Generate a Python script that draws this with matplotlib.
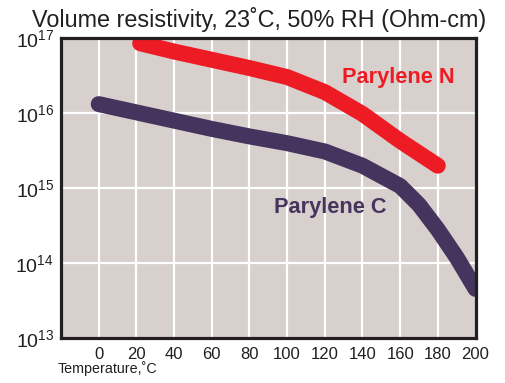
import matplotlib.pyplot as plt
from matplotlib.ticker import FixedLocator, NullLocator

# values (log10 of ohm-cm)
temp_n = [22, 40, 60, 80, 100, 120, 140, 160, 180]
log_rho_n = [16.93, 16.82, 16.71, 16.60, 16.48, 16.28, 15.99, 15.63, 15.30]

temp_c = [0, 20, 40, 60, 80, 100, 120, 140, 160, 170, 180, 190, 200]
log_rho_c = [16.12, 16.01, 15.90, 15.79, 15.69, 15.60, 15.49, 15.30, 15.03,
             14.78, 14.45, 14.08, 13.66]

x_ticks = [0, 20, 40, 60, 80, 100, 120, 140, 160, 180, 200]
y_decades = [13, 14, 15, 16, 17]

RED = "#ed1c24"
PURPLE = "#45345e"
BG = "#d7d0cd"
FRAME = "#231f20"

plt.rcParams["font.family"] = ["Liberation Sans", "DejaVu Sans"]
plt.rcParams["mathtext.default"] = "regular"

fig = plt.figure(figsize=(5.05, 3.83), dpi=100)
ax = fig.add_axes([0.1208, 0.1162, 0.8208, 0.7846])
ax.set_facecolor(BG)

ax.set_yscale("log")
ax.set_xlim(-20, 200)
ax.set_ylim(1e13, 1e17)

# grid: white lines, vertical every 20 from 0 to 180, horizontal at decades
for t in x_ticks[:-1]:
    ax.axvline(t, color="white", lw=1.6, zorder=1)
for d in y_decades[1:-1]:
    ax.axhline(10.0 ** d, color="white", lw=1.6, zorder=1)

ax.plot(temp_n, [10 ** v for v in log_rho_n], color=RED, lw=11.5,
        solid_capstyle="round", solid_joinstyle="round", zorder=3)
ax.plot(temp_c, [10 ** v for v in log_rho_c], color=PURPLE, lw=11.5,
        solid_capstyle="round", solid_joinstyle="round", zorder=3)

ax.text(159, 10 ** 16.47, "Parylene N", color=RED, fontsize=15.7,
        fontweight="bold", ha="center", va="center", zorder=4)
ax.text(123, 10 ** 14.75, "Parylene C", color=PURPLE, fontsize=15.7,
        fontweight="bold", ha="center", va="center", zorder=4)

ax.xaxis.set_major_locator(FixedLocator(x_ticks))
ax.set_xticklabels([str(t) for t in x_ticks])
ax.yaxis.set_major_locator(FixedLocator([10.0 ** d for d in y_decades]))
ax.yaxis.set_minor_locator(NullLocator())
ax.set_yticklabels([f"$10^{{{d}}}$" for d in y_decades])
ax.tick_params(axis="x", length=0, pad=6, labelsize=12, colors="#231f20")
ax.tick_params(axis="y", length=0, pad=5, labelsize=14, colors="#231f20")

for spine in ax.spines.values():
    spine.set_color(FRAME)
    spine.set_linewidth(2.3)
    spine.set_zorder(5)

fig.text(259.5 / 505, 1 - 20 / 383, "Volume resistivity, 23˚C, 50% RH (Ohm-cm)",
         fontsize=16.8, ha="center", va="center", color="#231f20")
fig.text(58 / 505, 1 - 369 / 383, "Temperature,˚C", fontsize=10.3,
         ha="left", va="center", color="#231f20")

fig.savefig("out.png", dpi=100, facecolor="white")
plt.close(fig)
